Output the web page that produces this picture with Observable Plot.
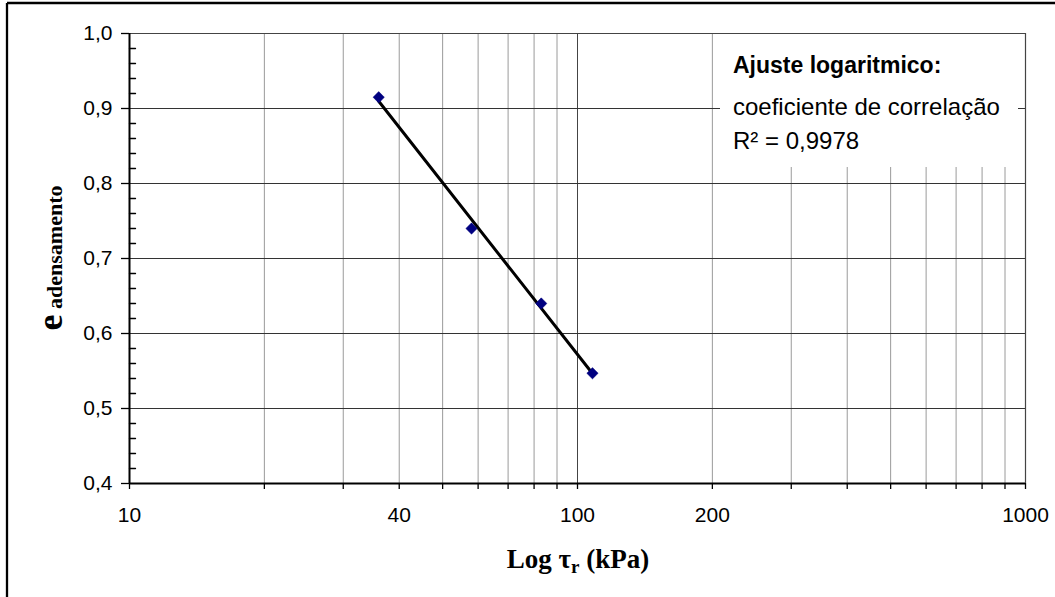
<!DOCTYPE html>
<html><head><meta charset="utf-8">
<script src="https://cdn.jsdelivr.net/npm/d3@7"></script>
<script src="https://cdn.jsdelivr.net/npm/@observablehq/plot@0.6"></script>
<style>
html,body{margin:0;padding:0;background:#fff;overflow:hidden}
#chart{position:relative;width:1055px;height:597px}
</style></head><body><div id="chart"></div>
<script>
// data
const tau = [36, 58, 83, 108];
const eAd = [0.915, 0.74, 0.64, 0.547];
// axis ticks
const xLabels = [10, 40, 100, 200, 1000];
const xTicksAll = [10, 20, 30, 40, 50, 60, 70, 80, 90, 100, 200, 300, 400, 500, 600, 700, 800, 900, 1000];
const xMinorGrid = [20, 30, 40, 50, 60, 70, 80, 90, 200, 300, 400, 500, 600, 700, 800, 900];
const yTicks = [0.4, 0.5, 0.6, 0.7, 0.8, 0.9, 1.0];
const yGrid = [0.5, 0.6, 0.7, 0.8, 0.9];
const yMinor = [0.42, 0.44, 0.46, 0.48, 0.52, 0.54, 0.56, 0.58, 0.62, 0.64, 0.66, 0.68,
                0.72, 0.74, 0.76, 0.78, 0.82, 0.84, 0.86, 0.88, 0.92, 0.94, 0.96, 0.98];
const legendTitle = "Ajuste logaritmico:";
const legendLines = ["coeficiente de correlação", "R² = 0,9978"];

const data = tau.map((t, i) => ({tau: t, e: eAd[i]}));

// logarithmic least-squares fit e = a ln(tau) + b
const lx = tau.map(Math.log);
const mx = d3.mean(lx), my = d3.mean(eAd);
const a = d3.sum(lx.map((v, i) => (v - mx) * (eAd[i] - my))) / d3.sum(lx.map(v => (v - mx) ** 2));
const b = my - a * mx;
const xr = d3.extent(tau);
const fit = xr.map(t => ({tau: t, e: a * Math.log(t) + b}));

const tickShape = {draw(c, l) { c.moveTo(0, 0); c.lineTo(0, -l); }};

const svgEl = Plot.plot({
  width: 1055, height: 597,
  marginLeft: 129, marginRight: 30, marginTop: 33, marginBottom: 114,
  x: {type: "log", domain: [10, 1000]},
  y: {domain: [0.4, 1.0]},
  style: {fontFamily: "'Liberation Sans', Arial, sans-serif", background: "#fff", color: "#000"},
  marks: [
    Plot.ruleX(xMinorGrid, {stroke: "#9a9a9a", strokeWidth: 1}),
    Plot.ruleX([100], {stroke: "#444", strokeWidth: 1}),
    Plot.ruleY(yGrid, {stroke: "#333", strokeWidth: 1}),
    Plot.ruleY([1.0], {stroke: "#444", strokeWidth: 1.2}),
    Plot.ruleX([1000], {stroke: "#444", strokeWidth: 1.2}),
    Plot.axisX({ticks: xTicksAll, tickSize: 6, tickFormat: () => "", label: null, strokeWidth: 1.3}),
    Plot.axisX({ticks: xLabels, tickSize: 0, tickPadding: 24, fontSize: 21, tickFormat: d => String(d), label: null}),
    Plot.axisY({ticks: yTicks, tickSize: 8, tickPadding: 9, fontSize: 21, strokeWidth: 1.3,
                tickFormat: d => d.toFixed(1).replace(".", ","), label: null}),
    Plot.vector(yMinor, {x: () => 10, y: d => d, length: 6, rotate: 90, anchor: "start",
                         shape: tickShape, stroke: "#000", strokeWidth: 1.3}),
    Plot.ruleX([10], {stroke: "#000", strokeWidth: 2}),
    Plot.ruleY([0.4], {stroke: "#000", strokeWidth: 2}),
    Plot.line(fit, {x: "tau", y: "e", stroke: "#000", strokeWidth: 3}),
    Plot.dot(data, {x: "tau", y: "e", symbol: "square", r: 4.5, rotate: 45,
                    fill: "#000080", stroke: "#000080", strokeWidth: 0.5})
  ]
});
document.getElementById("chart").appendChild(svgEl);

const svg = d3.select(svgEl);
// outer chart border (top and left visible)
svg.append("line").attr("x1", 7).attr("y1", 3).attr("x2", 1055).attr("y2", 3).attr("stroke", "#000").attr("stroke-width", 2.3);
svg.append("line").attr("x1", 7).attr("y1", 3).attr("x2", 7).attr("y2", 597).attr("stroke", "#000").attr("stroke-width", 2.3);

// legend / annotation box
const g = svg.append("g").attr("text-anchor", "start");
g.append("rect").attr("x", 720).attr("y", 34).attr("width", 298).attr("height", 133).attr("fill", "#fff");
g.append("text").attr("x", 733).attr("y", 73).attr("text-anchor", "start").attr("font-family", "'Liberation Sans', Arial, sans-serif")
  .attr("font-weight", "bold").attr("font-size", 23).attr("fill", "#000").text(legendTitle);
legendLines.forEach((t, i) => {
  g.append("text").attr("x", 733).attr("y", [115, 149][i]).attr("text-anchor", "start").attr("font-family", "'Liberation Sans', Arial, sans-serif")
    .attr("font-size", 24).attr("fill", "#000").text(t);
});

// x axis title
const xt = svg.append("text").attr("x", 578).attr("y", 568).attr("text-anchor", "middle")
  .attr("font-family", "'Liberation Serif', 'Times New Roman', serif").attr("font-weight", "bold")
  .attr("font-size", 27).attr("fill", "#000");
xt.append("tspan").text("Log τ");
xt.append("tspan").attr("font-size", 19).attr("dy", 5).text("r");
xt.append("tspan").attr("dy", -5).text(" (kPa)");

// y axis title
const yt = svg.append("text").attr("transform", "translate(62,258) rotate(-90)").attr("text-anchor", "middle")
  .attr("font-family", "'Liberation Serif', 'Times New Roman', serif").attr("font-weight", "bold").attr("fill", "#000");
yt.append("tspan").attr("font-size", 36).text("e");
yt.append("tspan").attr("font-size", 22).text(" adensamento");
</script></body></html>
